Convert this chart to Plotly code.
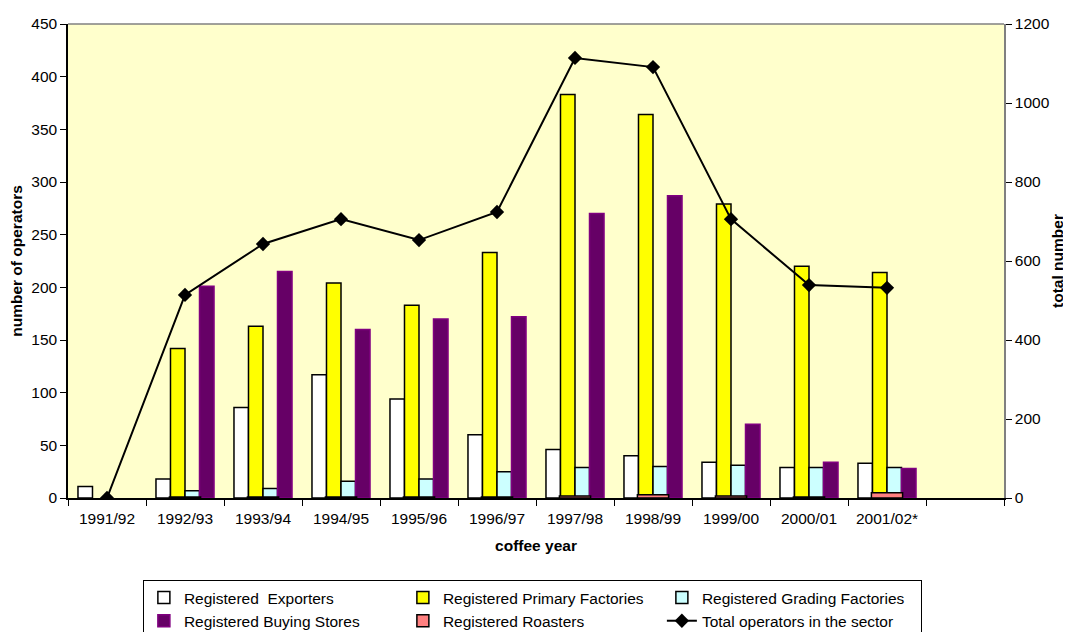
import plotly.graph_objects as go

years = ["1991/92", "1992/93", "1993/94", "1994/95", "1995/96", "1996/97",
         "1997/98", "1998/99", "1999/00", "2000/01", "2001/02*"]
exporters = [11, 18, 86, 117, 94, 60, 46, 40, 34, 29, 33]
primary = [None, 142, 163, 204, 183, 233, 383, 364, 279, 220, 214]
grading = [None, 7, 9, 16, 18, 25, 29, 30, 31, 29, 29]
buying = [None, 201, 215, 160, 170, 172, 270, 287, 70, 34, 28]
roasters = [None, 1, 1, 1, 1, 1, 2, 3, 2, 1, 5]
total = [0, 514, 643, 706, 653, 724, 1114, 1091, 706, 539, 532]

categories = years + [" "]
FONT = "Liberation Sans, Arial, sans-serif"
FS = 15.5
bw = 0.186

fig = go.Figure()
fig.add_trace(go.Bar(x=years, y=exporters, name="Registered  Exporters",
                     marker=dict(color="#FFFFFF", line=dict(color="#000000", width=1.5)),
                     offset=-2 * bw, width=bw))
fig.add_trace(go.Bar(x=years, y=primary, name="Registered Primary Factories",
                     marker=dict(color="#FFFF00", line=dict(color="#000000", width=1.5)),
                     offset=-bw, width=bw))
fig.add_trace(go.Bar(x=years, y=grading, name="Registered Grading Factories",
                     marker=dict(color="#CCFFFF", line=dict(color="#000000", width=1.5)),
                     offset=0, width=bw))
fig.add_trace(go.Bar(x=years, y=buying, name="Registered Buying Stores",
                     marker=dict(color="#660066", line=dict(color="#800080", width=1.5)),
                     offset=bw, width=bw))
fig.add_trace(go.Bar(x=years, y=roasters, name="Registered Roasters",
                     marker=dict(color="#FF8080", line=dict(color="#000000", width=1.5)),
                     offset=-0.2, width=0.4))
fig.add_trace(go.Scatter(x=years, y=total, name="Total operators in the sector",
                         yaxis="y2", mode="lines+markers",
                         line=dict(color="#000000", width=2),
                         marker=dict(symbol="diamond", size=11, color="#000000")))

fig.update_layout(
    width=1063, height=624,
    margin=dict(l=60, r=67, t=16, b=134, autoexpand=False),
    paper_bgcolor="#FFFFFF", plot_bgcolor="#FFFFCC",
    font=dict(family=FONT, size=FS, color="#000000"),
    barmode="overlay",
    showlegend=True,
    xaxis=dict(type="category", categoryorder="array", categoryarray=categories,
               range=[-0.5, 11.5], tickson="boundaries", ticks="outside", ticklen=6,
               tickcolor="#000000", showline=True, linecolor="#000000", linewidth=1.5,
               showgrid=False, zeroline=False, ticklabelstandoff=6,
               title=dict(text="<b>coffee year</b>", font=dict(size=FS), standoff=14)),
    yaxis=dict(range=[0, 450], dtick=50, ticks="outside", ticklen=6, tickcolor="#000000",
               showline=True, linecolor="#000000", linewidth=1.5, showgrid=False,
               zeroline=False,
               title=dict(text="<b>number of operators</b>", font=dict(size=FS), standoff=12)),
    yaxis2=dict(range=[0, 1200], dtick=200, overlaying="y", side="right", ticks="outside",
                ticklen=6, tickcolor="#000000", showline=True, linecolor="#808080",
                linewidth=1.5, showgrid=False, zeroline=False,
                title=dict(text="<b>total number</b>", font=dict(size=FS), standoff=3)),
    legend=dict(orientation="h", x=0.08, xanchor="left", y=-0.173, yanchor="top",
                bgcolor="#FFFFFF", bordercolor="#000000", borderwidth=1,
                entrywidth=214, entrywidthmode="pixels",
                font=dict(size=FS), traceorder="normal", tracegroupgap=0),
)
fig.add_shape(type="line", xref="paper", yref="paper", x0=0, x1=1, y0=1, y1=1,
              line=dict(color="#808080", width=1.5))

fig.write_html("out.html")
